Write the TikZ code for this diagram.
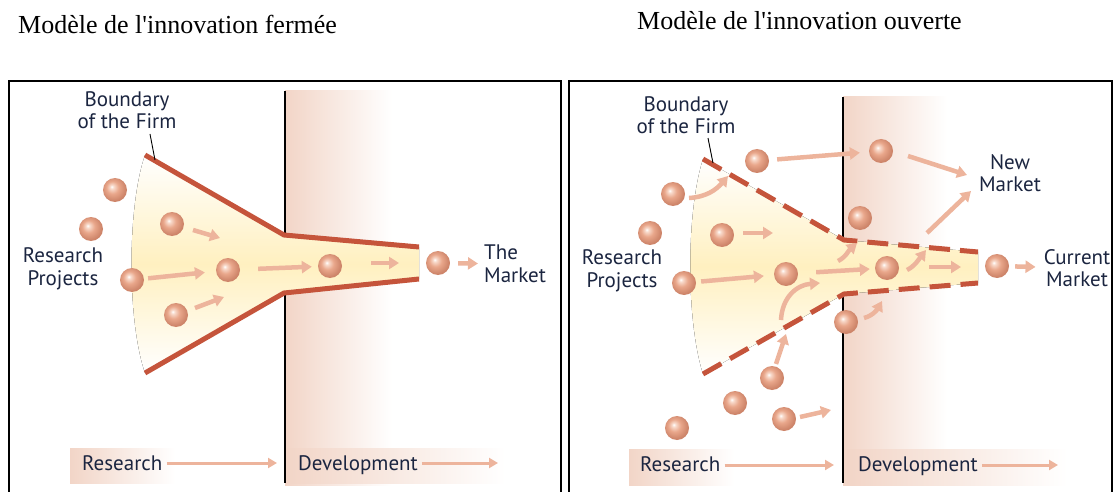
\documentclass[tikz,border=0pt]{standalone}
\usepackage{fontspec}
\setmainfont{Liberation Serif}
\newfontfamily\labfont{PT Sans}
\usetikzlibrary{arrows.meta}
\definecolor{sphmain}{HTML}{E9A78B}
\definecolor{sphlight}{HTML}{F8DACB}
\definecolor{sphdark}{HTML}{CD8469}
\definecolor{arrowc}{HTML}{EDB49C}
\definecolor{funnelc}{HTML}{C5543B}
\definecolor{textc}{HTML}{1B2540}
\definecolor{devc}{HTML}{F2D5C7}
\definecolor{funy}{HTML}{FFF0C0}
\pgfdeclareradialshading{sphere}{\pgfpoint{-7bp}{7bp}}{color(0bp)=(white); color(4bp)=(sphlight); color(13bp)=(sphmain); color(26bp)=(sphdark); color(50bp)=(sphdark)}
\begin{document}
\begin{tikzpicture}[x=1pt,y=-1pt,
  lab/.style={font=\labfont\fontsize{21}{22.5}\selectfont, text=textc, align=center, inner sep=0pt},
  ttl/.style={font=\fontsize{26}{30}\selectfont, inner sep=0pt, anchor=base west},
  sph/.style={circle, minimum size=24pt, inner sep=0pt, shade, shading=sphere},
  arr/.style={draw=arrowc, line width=4.5pt, -{Triangle[length=10pt,width=12pt]}},
  barr/.style={draw=arrowc, line width=3pt, -{Triangle[length=9pt,width=10pt]}},
  bnd/.style={draw=funnelc, line width=5pt},
  dbnd/.style={draw=funnelc, line width=5pt, dash pattern=on 21pt off 10pt},
  frame/.style={draw=black, line width=2pt},
  vline/.style={draw=black, line width=1.2pt},
  ptr/.style={draw=black, line width=0.9pt}]
\useasboundingbox (0,0) rectangle (1114,492);

% titles
\node[ttl] (t1) at (18,34) {Modèle de l\textquotesingle innovation fermée};
\node[ttl] (t2) at (637,30) {Modèle de l\textquotesingle innovation ouverte};

% ---------------- LEFT PANEL ----------------
\fill[left color=devc, right color=white] (285,91) rectangle (392,485);
\fill[left color=devc, right color=white] (70,448) rectangle (175,483);
\fill[left color=devc, right color=white] (287,448) rectangle (505,483);
\draw[vline] (285,91) -- (285,483);
\fill[top color=white, bottom color=white, middle color=funy]
  (145,155) -- (284,235) -- (419,247) -- (419,279) -- (284,293) -- (145,373)
  .. controls (127,320) and (127,208) .. (145,155);
\draw[bnd] (145,155) -- (284,235) -- (419,247);
\draw[bnd] (145,373) -- (284,293) -- (419,279);
\node[lab] (lb) at (127,110) {Boundary\\of the Firm};
\coordinate (lbp) at (155,160);
\draw[ptr] (150,134) -- (lbp);

\node[sph] (L1) at (115,190) {};
\node[sph] (L2) at (91,229) {};
\node[sph] (L3) at (132,280) {};
\node[sph] (L4) at (172,224) {};
\node[sph] (L5) at (228,270) {};
\node[sph] (L6) at (176,315) {};
\node[sph] (L7) at (330,266) {};
\node[sph] (L8) at (438,263) {};
\node[lab] (lrp) at (63,269) {Research\\Projects};
\node[lab, align=left, anchor=west] (mkt) at (484,264) {The\\Market};

\draw[arr] (193,230) -- (220,238);
\draw[arr, shorten <=4pt, shorten >=11pt] (L3) -- (L5);
\draw[arr] (195,308) -- (224,297);
\draw[arr, shorten <=18pt, shorten >=6pt] (L5) -- (L7);
\draw[arr] (371,263) -- (399,263);
\draw[arr, shorten <=8pt, shorten >=6pt] (L8) -- (mkt);

\node[lab, anchor=base west] (lres) at (82,470) {Research};
\node[lab, anchor=base west] (ldev) at (298,470) {Development};
\coordinate (lresE) at (277,463);
\coordinate (ldevE) at (498,463);
\draw[barr] (lres.east |- lresE) ++(4,0) -- (lresE);
\draw[barr] (ldev.east |- ldevE) ++(4,0) -- (ldevE);

\draw[frame] (9,493) -- (9,81) -- (561,81) -- (561,493);

% ---------------- RIGHT PANEL ----------------
\fill[left color=devc, right color=white] (843,97) rectangle (947,485);
\fill[left color=devc, right color=white] (629,449) rectangle (734,485);
\fill[left color=devc, right color=white] (847,449) rectangle (1067,485);
\draw[vline] (843,97) -- (843,483);
\fill[top color=white, bottom color=white, middle color=funy]
  (703,159) -- (844,240) -- (978,252) -- (978,283) -- (844,294) -- (703,374)
  .. controls (686,320) and (686,213) .. (703,159);
\draw[dbnd] (703,159) -- (844,240) -- (978,252);
\draw[dbnd] (703,374) -- (844,294) -- (978,283);
\node[lab] (rb) at (686,115) {Boundary\\of the Firm};
\coordinate (rbp) at (713,163);
\draw[ptr] (708,138) -- (rbp);

\node[sph] (R1) at (673,194) {};
\node[sph] (R2) at (650,233) {};
\node[sph] (R3) at (684,283) {};
\node[sph] (R4) at (722,235) {};
\node[sph] (R5) at (757,161) {};
\node[sph] (R6) at (786,274) {};
\node[sph] (R7) at (881,151) {};
\node[sph] (R8) at (860,218) {};
\node[sph] (R9) at (887,268) {};
\node[sph] (R10) at (997,266) {};
\node[sph] (R11) at (846,322) {};
\node[sph] (R12) at (772,378) {};
\node[sph] (R13) at (735,403) {};
\node[sph] (R14) at (784,419) {};
\node[sph] (R15) at (677,428) {};
\node[lab] (rrp) at (622,271) {Research\\Projects};
\node[lab] (nmk) at (1010,173) {New\\Market};
\node[lab] (cmk) at (1077,268) {Current\\Market};

\draw[arr] (689,198) .. controls (706,197) and (716,190) .. (728,176);
\draw[arr, shorten <=8pt, shorten >=9pt] (R5) -- (R7);
\draw[arr] (908,156) -- (967,175);
\draw[arr] (743,233) -- (773,233);
\draw[arr, shorten <=5pt, shorten >=10pt] (R3) -- (R6);
\draw[arr, shorten <=18pt, shorten >=5pt] (R6) -- (R9);
\draw[arr] (838,261) .. controls (846,257) and (849,250) .. (857,243);
\draw[arr] (927,233) -- (971,191);
\draw[arr] (907,270) .. controls (915,266) and (919,259) .. (926,250);
\draw[arr] (929,267) -- (961,267);
\draw[arr, shorten <=6pt, shorten >=8pt] (R10) -- (cmk);
\draw[arr] (776,364) -- (786,334);
\draw[arr] (781,320) .. controls (782,298) and (796,285) .. (820,283);
\draw[arr] (864,318) .. controls (872,316) and (877,310) .. (882,301);
\draw[arr] (800,417) -- (831,410);

\node[lab, anchor=base west] (rres) at (640,471) {Research};
\node[lab, anchor=base west] (rdev) at (858,471) {Development};
\coordinate (rresE) at (834,465);
\coordinate (rdevE) at (1058,465);
\draw[barr] (rres.east |- rresE) ++(4,0) -- (rresE);
\draw[barr] (rdev.east |- rdevE) ++(4,0) -- (rdevE);

\draw[frame] (569,493) -- (569,81) -- (1112,81) -- (1112,493);
\end{tikzpicture}
\end{document}
